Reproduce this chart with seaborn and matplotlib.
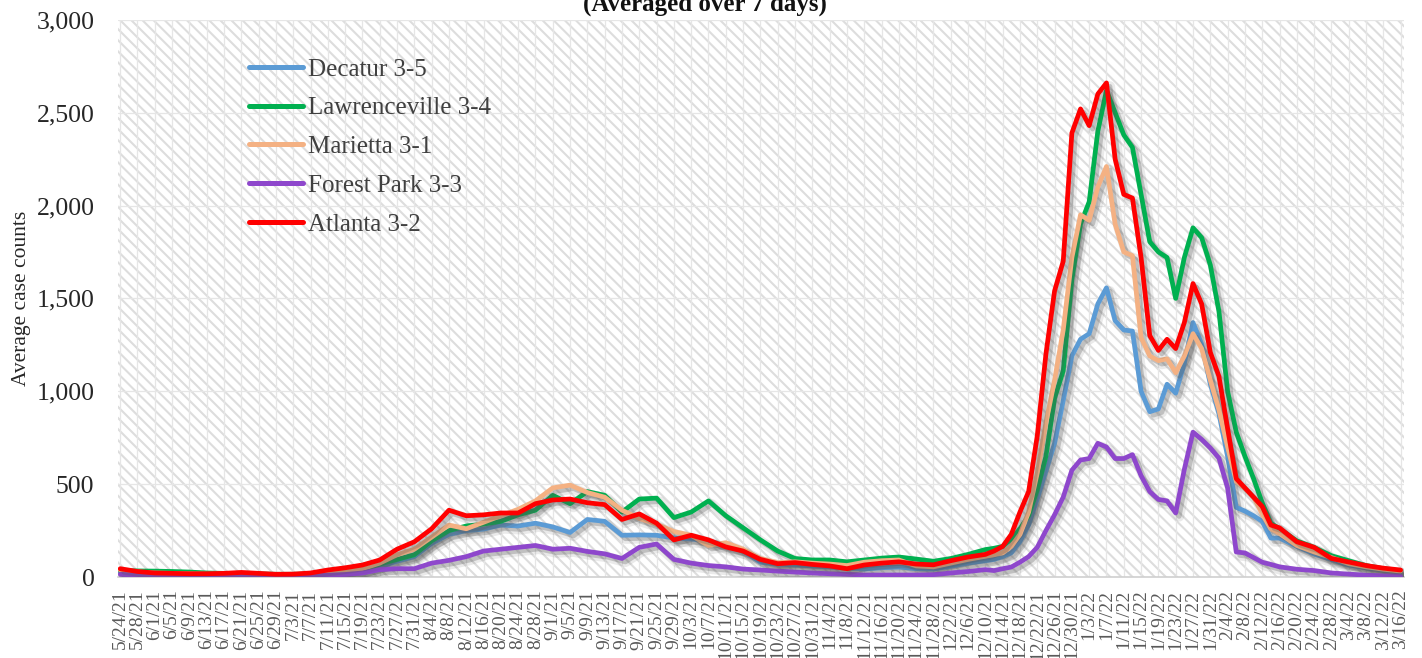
import numpy as np
import pandas as pd
import matplotlib
matplotlib.use("Agg")
import matplotlib.pyplot as plt
import matplotlib.patheffects as pe
from matplotlib.patches import Rectangle
from matplotlib.lines import Line2D
import seaborn as sns

# ---------------- data ----------------
dates_a = pd.date_range("2021-05-24", "2021-12-10", freq="4D")   # 51
dates_b = pd.date_range("2021-12-12", "2022-02-16", freq="2D")   # 34
dates_c = pd.date_range("2022-02-20", "2022-03-16", freq="4D")   # 7
dates = dates_a.append(dates_b).append(dates_c)

decatur = [28, 20, 16, 14, 12, 11, 10, 11, 10, 9, 9, 10, 14, 20, 32, 55, 85, 110, 180, 230,
           250, 258, 280, 275, 290, 270, 240, 310, 300, 225, 227, 225, 210, 205, 195, 170, 140,
           80, 70, 65, 60, 55, 50, 43, 50, 54, 45, 43, 58, 75, 88,
           95, 110, 130, 190, 280, 420, 570, 720, 950, 1190, 1280, 1310, 1470, 1557, 1380, 1330,
           1324, 1000, 890, 905, 1038, 990, 1150, 1370, 1254, 1040, 880, 650, 375, 355, 330, 300,
           210, 210,
           165, 125, 95, 65, 50, 38, 28]

lawrenceville = [35, 33, 32, 30, 27, 22, 20, 20, 17, 15, 15, 17, 24, 32, 45, 70, 95, 120, 195,
                 250, 275, 285, 300, 335, 360, 440, 395, 460, 440, 350, 420, 425, 320, 350, 410,
                 330, 265, 200, 140, 100, 92, 92, 82, 92, 102, 108, 97, 85, 100, 122, 148,
                 155, 165, 205, 260, 330, 470, 650, 962, 1110, 1600, 1900, 2020, 2400, 2620, 2500,
                 2380, 2313, 2060, 1805, 1750, 1720, 1500, 1720, 1880, 1827, 1680, 1430, 1000, 780,
                 650, 530, 400, 290, 260,
                 195, 160, 115, 88, 62, 45, 32]

marietta = [38, 28, 22, 20, 18, 16, 16, 17, 15, 14, 14, 15, 22, 30, 45, 75, 120, 150, 215, 280,
            260, 295, 330, 365, 410, 480, 495, 455, 430, 360, 315, 285, 245, 225, 170, 185, 150,
            100, 78, 82, 75, 70, 62, 80, 88, 92, 60, 55, 75, 95, 112,
            120, 130, 165, 230, 350, 560, 830, 1060, 1330, 1720, 1950, 1920, 2100, 2210, 1900,
            1750, 1730, 1290, 1190, 1165, 1175, 1100, 1190, 1310, 1230, 1060, 900, 700, 515, 478,
            430, 340, 260, 235,
            170, 135, 105, 72, 55, 42, 32]

forest_park = [15, 10, 8, 7, 6, 6, 6, 8, 7, 6, 6, 7, 10, 14, 22, 40, 45, 45, 75, 90, 110, 140,
               150, 160, 170, 150, 155, 138, 125, 100, 160, 178, 95, 75, 62, 55, 43, 38, 32, 27,
               22, 18, 15, 11, 11, 11, 11, 13, 22, 30, 40,
               35, 45, 54, 80, 110, 160, 250, 335, 430, 575, 630, 638, 720, 700, 638, 638, 659,
               545, 460, 418, 410, 345, 580, 780, 741, 695, 640, 480, 135, 130, 105, 80, 68, 55,
               42, 35, 22, 16, 10, 7, 5]

atlanta = [45, 30, 22, 20, 18, 18, 20, 25, 20, 15, 16, 22, 38, 50, 65, 92, 150, 190, 260, 360,
           330, 335, 345, 345, 395, 415, 420, 400, 390, 310, 340, 290, 200, 225, 200, 162, 140,
           95, 72, 78, 68, 60, 45, 65, 75, 82, 70, 66, 88, 108, 122,
           140, 165, 230, 350, 460, 760, 1200, 1540, 1700, 2390, 2520, 2430, 2600, 2660, 2250,
           2060, 2040, 1720, 1300, 1220, 1280, 1230, 1370, 1580, 1470, 1210, 1080, 800, 530, 480,
           430, 380, 280, 265,
           190, 160, 100, 81, 62, 48, 38]

series_names = ["Decatur 3-5", "Lawrenceville 3-4", "Marietta 3-1", "Forest Park 3-3", "Atlanta 3-2"]
series_values = [decatur, lawrenceville, marietta, forest_park, atlanta]
colors = ["#5B9BD5", "#00B050", "#F4B183", "#8E47CC", "#FF0000"]

tick_dates = pd.date_range("2021-05-24", "2022-03-16", freq="4D")
y_ticks = [0, 500, 1000, 1500, 2000, 2500, 3000]

df = pd.concat([pd.DataFrame({"date": dates, "value": v, "series": n})
                for n, v in zip(series_names, series_values)], ignore_index=True)

# ---------------- style ----------------
sns.set_theme(style="white")
plt.rcParams["font.family"] = ["Liberation Serif", "DejaVu Serif"]
plt.rcParams["hatch.linewidth"] = 1.5

fig = plt.figure(figsize=(14.22, 6.58), dpi=100)
ax = fig.add_axes([0.083, 0.123, 0.904, 0.847])

bg = Rectangle((0, 0), 1, 1, transform=ax.transAxes, facecolor="white",
               edgecolor="#DDDDDD", linewidth=0, hatch="\\\\\\", zorder=0)
ax.add_patch(bg)

lw = 3.4
sns.lineplot(data=df, x="date", y="value", hue="series", hue_order=series_names,
             palette=colors, linewidth=lw, ax=ax, legend=False, zorder=3)

for line in ax.get_lines():
    line.set_solid_capstyle("round")
    line.set_solid_joinstyle("round")
    line.set_path_effects([
        pe.SimpleLineShadow(offset=(2.5, -2.5), shadow_color="#555555", alpha=0.12, linewidth=lw + 4),
        pe.SimpleLineShadow(offset=(2.5, -2.5), shadow_color="#555555", alpha=0.28),
        pe.Normal()])

ax.set_xlim(tick_dates[0] - pd.Timedelta(hours=12), tick_dates[-1] + pd.Timedelta(hours=16))
ax.set_ylim(0, 3000)
ax.set_xticks(tick_dates)
ax.set_xticklabels([f"{d.month}/{d.day}/{d.year % 100}" for d in tick_dates],
                   rotation=90, fontsize=14, color="#595959")
ax.set_yticks(y_ticks)
ax.set_yticklabels([f"{v:,}" for v in y_ticks], fontsize=18.5, color="#262626")
ax.tick_params(axis="y", length=0, pad=17)
ax.tick_params(axis="x", length=0, pad=9)

ax.set_axisbelow(True)
ax.grid(True, axis="both", color="#E6E6E6", linewidth=0.9)
for s in ["top", "right", "left"]:
    ax.spines[s].set_visible(False)
ax.spines["bottom"].set_color("#D0D0D0")
ax.spines["bottom"].set_linewidth(1.2)

ax.set_xlabel("")
ax.set_ylabel("Average case counts", fontsize=15.5, color="#262626", labelpad=4)

handles = [Line2D([0], [0], color=c, linewidth=3.6, solid_capstyle="round") for c in colors]
leg = ax.legend(handles, series_names, loc="upper left", bbox_to_anchor=(0.102, 0.931),
                frameon=False, fontsize=18, handlelength=2.15, handletextpad=0.2,
                labelspacing=0.65, borderaxespad=0, borderpad=0)
for t in leg.get_texts():
    t.set_color("#404040")

fig.text(0.496, 0.984, "(Averaged over 7 days)", ha="center", va="baseline",
         fontsize=18, fontweight="bold", color="#111111")

fig.savefig("out.png", dpi=100)
